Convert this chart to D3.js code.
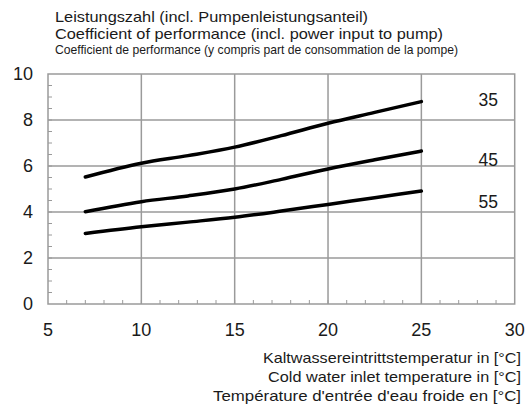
<!DOCTYPE html>
<html><head><meta charset="utf-8">
<script src="https://cdn.jsdelivr.net/npm/d3@7"></script>
<style>body{margin:0;background:#fff}svg{display:block}text{font-family:"Liberation Sans",Arial,sans-serif;fill:#1a1a1a}</style>
</head><body><svg id="c" width="526" height="412"></svg>
<script>
const titleLines = ["Leistungszahl (incl. Pumpenleistungsanteil)","Coefficient of performance (incl. power input to pump)","Coefficient de performance (y compris part de consommation de la pompe)"];
const xTitleLines = ["Kaltwassereintrittstemperatur in [°C]","Cold water inlet temperature in [°C]","Température d'entrée d'eau froide en [°C]"];
const xTicks = [5,10,15,20,25,30];
const yTicks = [0,2,4,6,8,10];
const temps = [7,10,12.5,15,17.5,20,22.5,25];
const seriesNames = ["35","45","55"];
const cop35 = [5.52,6.12,6.45,6.82,7.32,7.86,8.33,8.8];
const cop45 = [4.01,4.45,4.70,5.0,5.42,5.87,6.27,6.65];
const cop55 = [3.07,3.36,3.56,3.77,4.04,4.33,4.62,4.91];
const seriesValues = [cop35,cop45,cop55];

const svg = d3.select("#c");
const x = d3.scaleLinear().domain([5,30]).range([48,514.7]);
const y = d3.scaleLinear().domain([0,10]).range([304,74]);
const grid = "#9a9a9a";

svg.append("g").selectAll("line").data(xTicks.slice(1,-1)).join("line")
  .attr("x1",d=>x(d)).attr("x2",d=>x(d)).attr("y1",y(0)).attr("y2",y(10))
  .attr("stroke",grid).attr("stroke-width",1.5);
svg.append("g").selectAll("line").data(yTicks.slice(1,-1)).join("line")
  .attr("y1",d=>y(d)).attr("y2",d=>y(d)).attr("x1",x(5)).attr("x2",x(30))
  .attr("stroke",grid).attr("stroke-width",1.5);
svg.append("g").selectAll("line").data(d3.range(6,30)).join("line")
  .attr("x1",d=>x(d)).attr("x2",d=>x(d)).attr("y1",y(0)).attr("y2",y(0)-4)
  .attr("stroke",grid).attr("stroke-width",1);
svg.append("g").selectAll("line").data(d3.range(0.5,10,0.5)).join("line")
  .attr("y1",d=>y(d)).attr("y2",d=>y(d)).attr("x1",x(5)).attr("x2",x(5)+4)
  .attr("stroke",grid).attr("stroke-width",1);
svg.append("rect").attr("x",x(5)).attr("y",y(10)).attr("width",x(30)-x(5)).attr("height",y(0)-y(10))
  .attr("fill","none").attr("stroke",grid).attr("stroke-width",1.5);

svg.append("g").selectAll("text").data(yTicks).join("text")
  .attr("x",33).attr("y",d=>y(d)).attr("dy","0.36em").attr("text-anchor","end")
  .attr("font-size",18).text(d=>d);
svg.append("g").selectAll("text").data(xTicks).join("text")
  .attr("x",d=>x(d)).attr("y",336).attr("text-anchor","middle")
  .attr("font-size",18).text(d=>d);

const line = d3.line().x((d,i)=>x(temps[i])).y(d=>y(d)).curve(d3.curveMonotoneX);
svg.append("g").selectAll("path").data(seriesValues).join("path")
  .attr("d",line).attr("fill","none").attr("stroke","#000").attr("stroke-width",3.5).attr("stroke-linecap","round");

const labelY = [8.9, 6.26, 4.44];
svg.append("g").selectAll("text").data(seriesNames).join("text")
  .attr("x",498).attr("y",(d,i)=>y(labelY[i])).attr("dy","0.36em").attr("text-anchor","end")
  .attr("font-size",17.5).text(d=>d);

const tsz = [14.5,15,13];
const tlen = [313,388,403];
const ty = [22,39,54];
svg.append("g").selectAll("text").data(titleLines).join("text")
  .attr("x",55).attr("y",(d,i)=>ty[i]).attr("font-size",(d,i)=>tsz[i])
  .attr("textLength",(d,i)=>tlen[i]).attr("lengthAdjust","spacingAndGlyphs").text(d=>d);
const xty = [363,382,401];
const xlen = [258,253,308];
svg.append("g").selectAll("text").data(xTitleLines).join("text")
  .attr("x",521).attr("y",(d,i)=>xty[i]).attr("text-anchor","end").attr("font-size",15)
  .attr("textLength",(d,i)=>xlen[i]).attr("lengthAdjust","spacingAndGlyphs").text(d=>d);
</script></body></html>
